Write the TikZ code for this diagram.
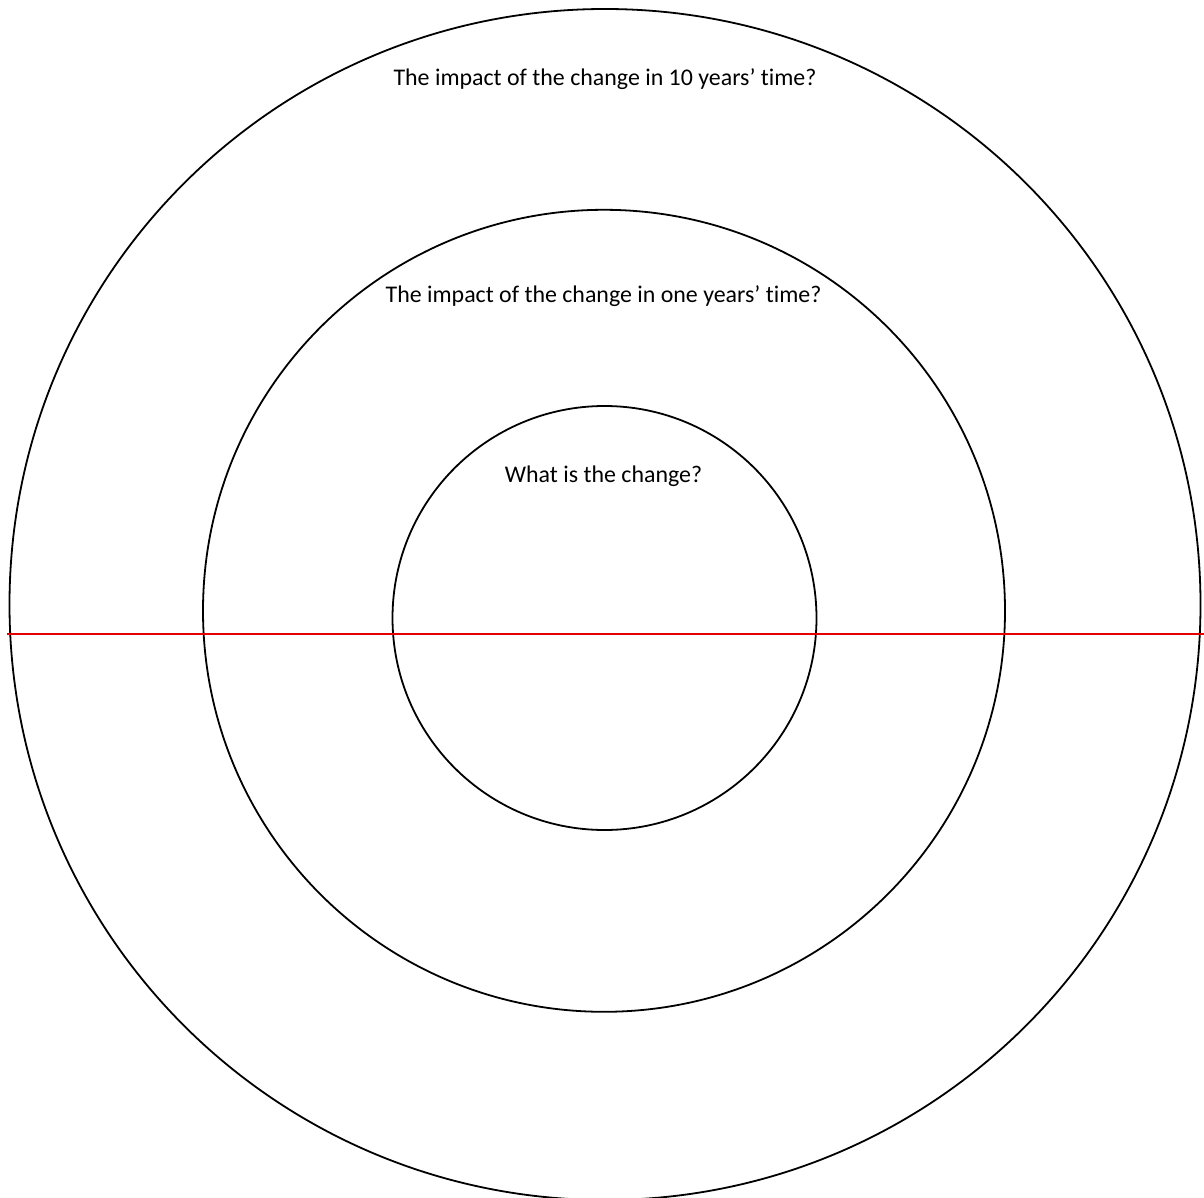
\documentclass[tikz,border=0pt]{standalone}
\usepackage{fontspec}
\setmainfont[Ligatures=NoCommon]{Carlito}
\begin{document}
\begin{tikzpicture}[x=1pt, y=-1pt,
  ring/.style={draw, circle, line width=1.8pt, inner sep=0pt},
  label/.style={anchor=base, font=\fontsize{23.9}{28}\selectfont},
  every node/.style={}]
  \useasboundingbox (0,0) rectangle (1204,1198);
  \clip (0,0) rectangle (1204,1198);
  \node[ring, minimum size=1191pt] (outer) at (605,604.5) {};
  \node[ring, minimum size=802pt] (middle) at (604,610.8) {};
  \node[ring, minimum size=424pt] (inner) at (604.5,618) {};
  \coordinate (lineL) at (7,634);
  \coordinate (lineR) at (1204,634);
  \draw[red!90!black, line width=1.8pt] (lineL) -- (lineR);
  \node[label] (ten) at (605,86) {The impact of the change in 10 years’ time?};
  \node[label] (one) at (603.5,302) {The impact of the change in one years’ time?};
  \node[label] (what) at (603.5,482) {What is the change?};
\end{tikzpicture}
\end{document}
